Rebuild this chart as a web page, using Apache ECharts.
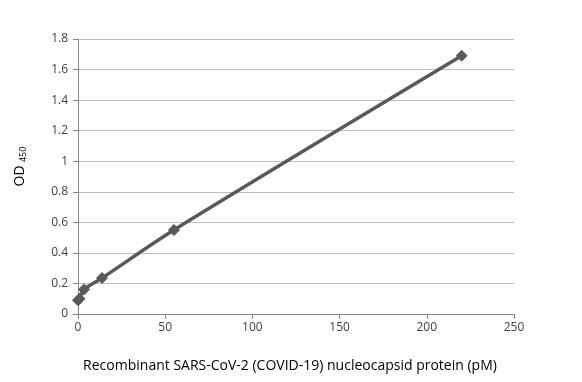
<!DOCTYPE html>
<html><head><meta charset="utf-8">
<script src="https://cdn.jsdelivr.net/npm/echarts@6/dist/echarts.min.js"></script>
<style>html,body{margin:0;padding:0;background:#fff}#c{width:582px;height:382px}</style>
</head><body><div id="c"></div>
<script>
var concentration = [0, 0.86, 3.44, 13.75, 55, 220];
var od450 = [0.09, 0.10, 0.16, 0.235, 0.55, 1.69];
var xTicks = [0, 50, 100, 150, 200, 250];
var yTicks = [0, 0.2, 0.4, 0.6, 0.8, 1, 1.2, 1.4, 1.6, 1.8];

var chart = echarts.init(document.getElementById('c'), null, {renderer: 'canvas'});
var font = '"Open Sans", "Liberation Sans", sans-serif';
chart.setOption({
  animation: false,
  backgroundColor: '#fff',
  grid: {left: 78, right: 68, top: 39, bottom: 68},
  xAxis: {
    type: 'value', min: xTicks[0], max: xTicks[xTicks.length - 1], interval: 50,
    name: 'Recombinant SARS-CoV-2 (COVID-19) nucleocapsid protein (pM)',
    nameLocation: 'middle', nameGap: 45,
    nameTextStyle: {color: '#000', fontSize: 14, fontFamily: font, padding: [0, 12, 0, 0]},
    axisLine: {lineStyle: {color: '#868686', width: 1}},
    axisTick: {show: true, length: 5, lineStyle: {color: '#868686'}},
    axisLabel: {color: '#404040', fontSize: 12, fontFamily: font, margin: 8},
    splitLine: {show: false}
  },
  yAxis: {
    type: 'value', min: 0, max: 1.8, interval: 0.2,
    name: '{a|OD} {b|450}', nameLocation: 'middle', nameGap: 50, nameRotate: 90,
    nameTextStyle: {padding: [0, 0, 0, 20], rich: {
      a: {color: '#000', fontSize: 14, fontFamily: font},
      b: {color: '#000', fontSize: 9, fontFamily: font, padding: [6, 0, 0, 0]}
    }},
    axisLine: {show: true, lineStyle: {color: '#868686', width: 1}},
    axisTick: {show: true, length: 5, lineStyle: {color: '#868686'}},
    axisLabel: {color: '#404040', fontSize: 12, fontFamily: font, margin: 10,
      formatter: function (v) { return String(Math.round(v * 10) / 10); }},
    splitLine: {lineStyle: {color: '#bfbfbf', width: 1}}
  },
  series: [{
    type: 'line',
    data: concentration.map(function (x, i) { return [x, od450[i]]; }),
    smooth: 0.3,
    symbol: 'diamond', symbolSize: 12,
    lineStyle: {color: '#595959', width: 3.5},
    itemStyle: {color: '#595959'}
  }]
});
</script></body></html>
